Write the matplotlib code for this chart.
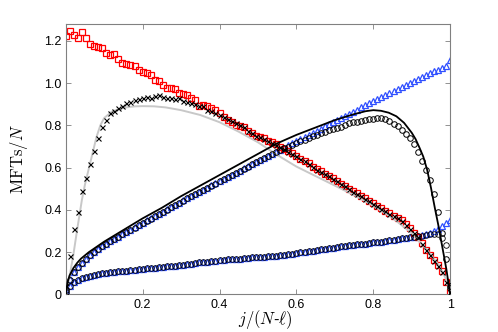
import numpy as np
import matplotlib
matplotlib.use('Agg')
import matplotlib.pyplot as plt

plt.rcParams['mathtext.fontset'] = 'cm'
plt.rcParams['font.family'] = ['Liberation Sans', 'DejaVu Sans']

# simulation points: j = 0..95, x = j/95
j = np.arange(96)
x = j / 95.0

red_sq = [1.222, 1.247, 1.227, 1.214, 1.240, 1.214, 1.184, 1.175, 1.172, 1.164,
          1.143, 1.132, 1.136, 1.112, 1.096, 1.090, 1.085, 1.080, 1.060, 1.053,
          1.049, 1.038, 1.014, 1.010, 0.990, 0.975, 0.975, 0.972, 0.954, 0.947,
          0.944, 0.930, 0.920, 0.893, 0.896, 0.890, 0.880, 0.875, 0.857, 0.840,
          0.825, 0.818, 0.800, 0.795, 0.790, 0.773, 0.762, 0.752, 0.745, 0.738,
          0.728, 0.720, 0.710, 0.700, 0.688, 0.678, 0.668, 0.655, 0.643, 0.632,
          0.620, 0.605, 0.593, 0.583, 0.572, 0.561, 0.550, 0.538, 0.525, 0.513,
          0.500, 0.489, 0.478, 0.466, 0.455, 0.443, 0.432, 0.420, 0.408, 0.396,
          0.385, 0.373, 0.362, 0.350, 0.333, 0.313, 0.293, 0.273, 0.243, 0.212,
          0.188, 0.163, 0.140, 0.112, 0.060, 0.012]

crosses = [0.040, 0.180, 0.310, 0.390, 0.490, 0.550, 0.615, 0.680, 0.740, 0.790,
           0.825, 0.857, 0.870, 0.880, 0.890, 0.905, 0.910, 0.920, 0.925, 0.930,
           0.935, 0.930, 0.940, 0.944, 0.935, 0.930, 0.930, 0.925, 0.930, 0.915,
           0.910, 0.905, 0.900, 0.890, 0.890, 0.875, 0.870, 0.860, 0.850, 0.840,
           0.830, 0.820, 0.810, 0.800, 0.790, 0.775, 0.765, 0.750, 0.744, 0.735,
           0.726, 0.718, 0.707, 0.697, 0.686, 0.676, 0.665, 0.653, 0.641, 0.630,
           0.618, 0.604, 0.591, 0.581, 0.570, 0.559, 0.548, 0.536, 0.523, 0.511,
           0.498, 0.487, 0.476, 0.464, 0.453, 0.441, 0.430, 0.418, 0.406, 0.394,
           0.383, 0.371, 0.360, 0.348, 0.331, 0.311, 0.291, 0.270, 0.240, 0.210,
           0.186, 0.160, 0.137, 0.108, 0.057, 0.010]

up_circ = [0.020, 0.070, 0.105, 0.130, 0.150, 0.168, 0.185, 0.200, 0.213, 0.227,
           0.240, 0.251, 0.262, 0.273, 0.284, 0.295, 0.305, 0.316, 0.327, 0.338,
           0.349, 0.359, 0.370, 0.381, 0.391, 0.402, 0.412, 0.423, 0.433, 0.444,
           0.455, 0.465, 0.475, 0.485, 0.495, 0.505, 0.515, 0.525, 0.535, 0.545,
           0.554, 0.564, 0.573, 0.583, 0.592, 0.601, 0.616, 0.626, 0.636, 0.645,
           0.655, 0.664, 0.674, 0.683, 0.692, 0.700, 0.708, 0.716, 0.724, 0.732,
           0.740, 0.748, 0.756, 0.763, 0.770, 0.776, 0.782, 0.788, 0.794, 0.800,
           0.810, 0.814, 0.818, 0.822, 0.826, 0.829, 0.832, 0.834, 0.835, 0.829,
           0.820, 0.808, 0.795, 0.780, 0.760, 0.738, 0.710, 0.675, 0.630, 0.590,
           0.540, 0.475, 0.390, 0.290, 0.170, 0.040]

up_tri = [0.018, 0.072, 0.107, 0.132, 0.151, 0.169, 0.186, 0.201, 0.214, 0.228,
          0.241, 0.252, 0.263, 0.274, 0.285, 0.296, 0.306, 0.317, 0.328, 0.339,
          0.350, 0.360, 0.371, 0.382, 0.392, 0.403, 0.413, 0.424, 0.434, 0.445,
          0.456, 0.466, 0.476, 0.486, 0.496, 0.506, 0.516, 0.526, 0.536, 0.546,
          0.556, 0.566, 0.576, 0.586, 0.596, 0.606, 0.618, 0.628, 0.638, 0.647,
          0.655, 0.665, 0.675, 0.685, 0.695, 0.705, 0.715, 0.725, 0.735, 0.745,
          0.755, 0.765, 0.775, 0.785, 0.795, 0.805, 0.815, 0.825, 0.835, 0.845,
          0.855, 0.865, 0.875, 0.885, 0.895, 0.905, 0.914, 0.924, 0.934, 0.944,
          0.953, 0.963, 0.972, 0.982, 0.991, 1.001, 1.010, 1.019, 1.028, 1.037,
          1.046, 1.055, 1.064, 1.073, 1.082, 1.109]

low_tri = [0.013, 0.040, 0.058, 0.070, 0.077, 0.083, 0.088, 0.093, 0.097, 0.100,
           0.103, 0.105, 0.107, 0.109, 0.111, 0.113, 0.115, 0.117, 0.119, 0.121,
           0.123, 0.125, 0.127, 0.129, 0.131, 0.133, 0.135, 0.137, 0.139, 0.141,
           0.143, 0.146, 0.149, 0.152, 0.154, 0.156, 0.158, 0.160, 0.162, 0.164,
           0.166, 0.167, 0.169, 0.170, 0.172, 0.173, 0.175, 0.176, 0.178, 0.179,
           0.181, 0.182, 0.184, 0.185, 0.187, 0.190, 0.193, 0.196, 0.199, 0.201,
           0.204, 0.207, 0.210, 0.213, 0.216, 0.219, 0.222, 0.224, 0.227, 0.230,
           0.232, 0.234, 0.237, 0.239, 0.241, 0.243, 0.246, 0.248, 0.250, 0.253,
           0.256, 0.259, 0.262, 0.265, 0.267, 0.270, 0.274, 0.278, 0.282, 0.287,
           0.292, 0.298, 0.310, 0.322, 0.336, 0.352]

low_circ = [0.012, 0.038, 0.057, 0.069, 0.077, 0.083, 0.088, 0.093, 0.097, 0.100,
            0.103, 0.105, 0.107, 0.109, 0.111, 0.113, 0.115, 0.117, 0.119, 0.121,
            0.123, 0.125, 0.127, 0.129, 0.131, 0.133, 0.135, 0.137, 0.139, 0.141,
            0.143, 0.146, 0.149, 0.152, 0.154, 0.156, 0.158, 0.160, 0.162, 0.164,
            0.166, 0.167, 0.169, 0.170, 0.172, 0.173, 0.175, 0.176, 0.178, 0.179,
            0.181, 0.182, 0.184, 0.185, 0.187, 0.190, 0.193, 0.196, 0.199, 0.201,
            0.204, 0.207, 0.210, 0.213, 0.216, 0.219, 0.222, 0.224, 0.227, 0.230,
            0.232, 0.234, 0.237, 0.239, 0.241, 0.243, 0.246, 0.248, 0.250, 0.253,
            0.256, 0.259, 0.262, 0.265, 0.267, 0.270, 0.272, 0.275, 0.279, 0.283,
            0.286, 0.288, 0.285, 0.265, 0.235, 0.030]

# theory curves
th_x_gray = [0.0, 0.01, 0.02, 0.03, 0.042, 0.05, 0.06, 0.07, 0.08, 0.09, 0.1,
             0.12, 0.14, 0.16, 0.18, 0.2, 0.23, 0.26, 0.3, 0.35, 0.4, 0.45, 0.5,
             0.55, 0.6, 0.65, 0.7, 0.75, 0.8, 0.85, 0.9, 0.94, 0.97, 0.99, 1.0]
th_gray = [0.0, 0.085, 0.19, 0.31, 0.447, 0.52, 0.595, 0.67, 0.745, 0.80, 0.835,
           0.865, 0.878, 0.886, 0.89, 0.891, 0.89, 0.885, 0.872, 0.849, 0.815,
           0.77, 0.72, 0.66, 0.605, 0.56, 0.515, 0.47, 0.42, 0.362, 0.29, 0.21,
           0.14, 0.07, 0.0]

th_x_black = [0.0, 0.005, 0.01, 0.02, 0.03, 0.04, 0.06, 0.08, 0.1, 0.15, 0.2,
              0.25, 0.3, 0.35, 0.4, 0.45, 0.5, 0.55, 0.6, 0.65, 0.7, 0.75, 0.78,
              0.8, 0.82, 0.84, 0.86, 0.88, 0.9, 0.91, 0.92, 0.93, 0.94, 0.95,
              0.96, 0.97, 0.98, 0.99, 1.0]
th_black = [0.0, 0.06, 0.09, 0.125, 0.15, 0.17, 0.20, 0.225, 0.25, 0.305, 0.36,
            0.41, 0.465, 0.515, 0.565, 0.615, 0.665, 0.715, 0.755, 0.79, 0.825,
            0.853, 0.867, 0.872, 0.869, 0.86, 0.843, 0.812, 0.765, 0.735, 0.695,
            0.652, 0.59, 0.505, 0.41, 0.32, 0.22, 0.12, 0.0]

fig = plt.figure(figsize=(4.98, 3.32), dpi=100)
ax = fig.add_axes([0.132, 0.113, 0.772, 0.815])

blue = '#3050ff'
ax.plot(x, low_tri, ls='none', marker='^', ms=4.4, mfc='none', mec=blue, mew=0.9, zorder=2)
ax.plot(x, up_tri, ls='none', marker='^', ms=4.4, mfc='none', mec=blue, mew=0.9, zorder=2)
ax.plot(x, red_sq, ls='none', marker='s', ms=4.0, mfc='none', mec='red', mew=0.9, zorder=2)
ax.plot(th_x_gray, th_gray, color='#c8c8c8', lw=1.4, zorder=3)
ax.plot(x, crosses, ls='none', marker='x', ms=3.6, color='k', mew=0.8, zorder=4)
ax.plot(x, low_circ, ls='none', marker='o', ms=4.0, mfc='none', mec='k', mew=0.6, zorder=4)
ax.plot(x, up_circ, ls='none', marker='o', ms=4.0, mfc='none', mec='k', mew=0.7, zorder=4)
ax.plot(th_x_black, th_black, color='k', lw=1.3, zorder=5)

ax.set_xlim(0, 1)
ax.set_ylim(0, 1.28)
ax.set_xticks([0, 0.2, 0.4, 0.6, 0.8, 1.0])
ax.set_xticklabels(['', '0.2', '0.4', '0.6', '0.8', '1'])
ax.set_yticks([0, 0.2, 0.4, 0.6, 0.8, 1.0, 1.2])
ax.set_yticklabels(['0', '0.2', '0.4', '0.6', '0.8', '1.0', '1.2'])
ax.tick_params(direction='in', top=True, right=True, length=3.5, width=0.6,
               color='#808080', labelsize=9, pad=3)
for s in ax.spines.values():
    s.set_color('#808080')
    s.set_linewidth(0.8)

ax.set_xlabel(r'$j/(N$-$\ell)$', fontsize=12)
ax.xaxis.set_label_coords(0.52, -0.05)
ax.set_ylabel(r'$\mathrm{MFTs}/N$', fontsize=12)
ax.yaxis.set_label_coords(-0.093, 0.5)

fig.savefig('out.png', dpi=100)
